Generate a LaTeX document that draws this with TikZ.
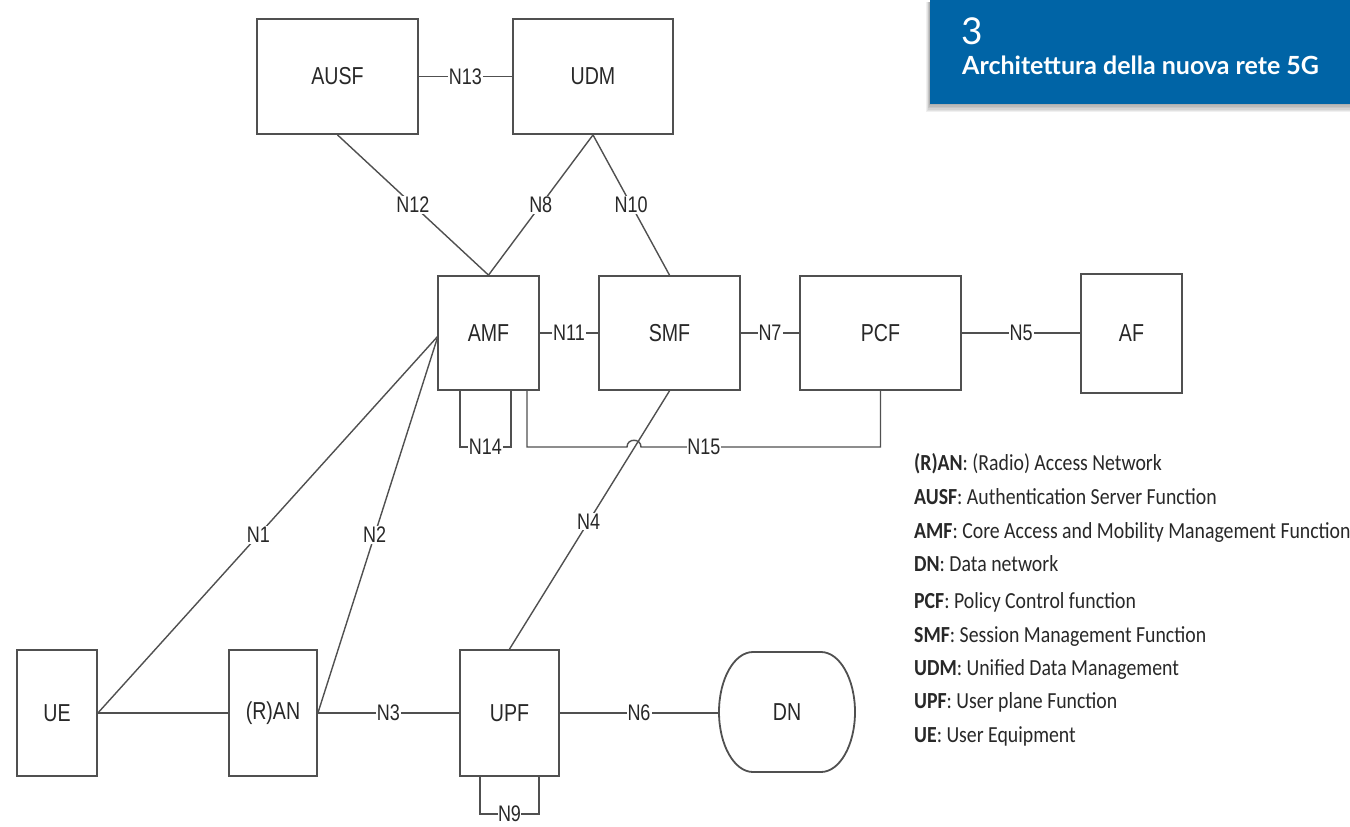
\documentclass[tikz,border=0pt]{standalone}
\usepackage{fontspec}
\setmainfont{Liberation Sans}
\newfontfamily\diagfont[FakeStretch=0.8]{Liberation Sans}
\newfontfamily\legfont[FakeStretch=0.86]{Carlito}
\newfontfamily\titlefont{Lato}
\usetikzlibrary{calc}
\definecolor{titleblue}{RGB}{0,100,166}
\definecolor{linegray}{RGB}{80,80,80}
\definecolor{txtgray}{RGB}{40,40,40}
\begin{document}
\begin{tikzpicture}[x=1pt,y=-1pt,
  box/.style={draw=linegray, line width=1.8pt, fill=white, inner sep=0pt, font=\diagfont\fontsize{24.5}{28}\selectfont, text=txtgray},
  conn/.style={draw=linegray, line width=1.4pt},
  lbl/.style={fill=white, inner sep=1pt, font=\diagfont\fontsize{22.5}{26}\selectfont, text=txtgray},
  leg/.style={anchor=base west, inner sep=0pt, font=\legfont\fontsize{23}{26}\selectfont, text=txtgray}]
\useasboundingbox (0,0) rectangle (1350,827);
\fill[white] (0,0) rectangle (1350,827);

% title box with shadow
\foreach \i in {1,...,6} {
  \fill[black, opacity=0.06] (930-0.6*\i,2) rectangle (1350,104+1.4*\i);
}
\fill[titleblue] (930,0) rectangle (1350,104);
\node[anchor=base west, inner sep=0pt, font=\titlefont\fontsize{37}{37}\selectfont, text=white] (tnum) at (961,45) {3};
\node[anchor=base west, inner sep=0pt, font=\titlefont\bfseries\fontsize{25}{28}\selectfont, text=white] (ttl) at (962,74) {Architettura della nuova rete 5G};

% boxes
\node[box, minimum width=161pt, minimum height=115pt] (AUSF) at (337.5,76.5) {AUSF};
\node[box, minimum width=160pt, minimum height=115pt] (UDM) at (593,76.5) {UDM};
\node[box, minimum width=101pt, minimum height=114pt] (AMF) at (488.5,333) {AMF};
\node[box, minimum width=141pt, minimum height=114pt] (SMF) at (669.5,333) {SMF};
\node[box, minimum width=161pt, minimum height=114pt] (PCF) at (880.5,333) {PCF};
\node[box, minimum width=101pt, minimum height=119pt] (AF) at (1131.5,333.5) {AF};
\node[box, minimum width=80pt, minimum height=126pt] (UE) at (57,713) {UE};
\node[box, minimum width=88pt, minimum height=126pt] (RAN) at (273,713) {(R)AN};
\node[box, minimum width=99pt, minimum height=126pt] (UPF) at (509.5,713) {UPF};
\node[box, draw=none, fill=none, minimum width=136pt, minimum height=120pt] (DN) at (787,712) {DN};
\draw[draw=linegray, line width=1.8pt] (753,652) -- (821,652)
  .. controls (839.7,652) and (855,679) .. (855,712)
  .. controls (855,745) and (839.7,772) .. (821,772) -- (753,772)
  .. controls (734.3,772) and (719,745) .. (719,712)
  .. controls (719,679) and (734.3,652) .. (753,652) -- cycle;

% connectors
\draw[conn] (AUSF.east) -- node[lbl] {N13} (UDM.west);
\draw[conn] (AUSF.south) -- node[lbl] {N12} (AMF.north);
\draw[conn] (UDM.south) -- node[lbl] {N8} (AMF.north);
\draw[conn] (UDM.south) -- node[lbl] {N10} (SMF.north);
\draw[conn] (AMF.east) -- node[lbl] {N11} (SMF.west);
\draw[conn] (SMF.east) -- node[lbl] {N7} (PCF.west);
\draw[conn] (PCF.east) -- node[lbl] {N5} (PCF.east -| AF.west);

\coordinate (amfin) at (438,336);
\draw[conn] (UE.east) -- node[lbl, pos=0.472] {N1} (amfin);
\draw[conn] (RAN.east) -- node[lbl, pos=0.472] {N2} (amfin);
\draw[conn] (UE.east) -- (RAN.west);
\draw[conn] (RAN.east) -- node[lbl] {N3} (UPF.west);
\draw[conn] (UPF.east) -- node[lbl] {N6} (UPF.east -| DN.west);
\draw[conn] (SMF.south) -- node[lbl, pos=0.505] {N4} (UPF.north);

% N14 loop
\coordinate (n14a) at (460,390);
\draw[conn] (n14a) -- ++(0,57) -- node[lbl, inner sep=0.5pt] {N14} ++(51,0) -- ++(0,-57);

% N9 loop
\coordinate (n9a) at (480,776);
\draw[conn] (n9a) -- ++(0,38) -- node[lbl, inner sep=0.3pt] {N9} ++(59,0) -- ++(0,-38);

% N15 with hop
\coordinate (n15a) at (527,390);
\coordinate (n15b) at (527,447);
\draw[conn] (n15a) -- (n15b) -- (627,447) .. controls (627,438) and (641,438) .. (641,447)
  -- node[lbl, pos=0.2625, inner sep=0.5pt] {N15} (PCF.south |- n15b) -- (PCF.south);

% legend
\node[leg] (l1) at (914,470) {\bfseries (R)AN\mdseries: (Radio) Access Network};
\node[leg] (l2) at (914,504) {\bfseries AUSF\mdseries: Authentication Server Function};
\node[leg] (l3) at (914,538) {\bfseries AMF\mdseries: Core Access and Mobility Management Function};
\node[leg] (l4) at (914,571) {\bfseries DN\mdseries: Data network};
\node[leg] (l5) at (914,608) {\bfseries PCF\mdseries: Policy Control function};
\node[leg] (l6) at (914,642) {\bfseries SMF\mdseries: Session Management Function};
\node[leg] (l7) at (914,675) {\bfseries UDM\mdseries: Unified Data Management};
\node[leg] (l8) at (914,708) {\bfseries UPF\mdseries: User plane Function};
\node[leg] (l9) at (914,742) {\bfseries UE\mdseries: User Equipment};
\end{tikzpicture}
\end{document}
